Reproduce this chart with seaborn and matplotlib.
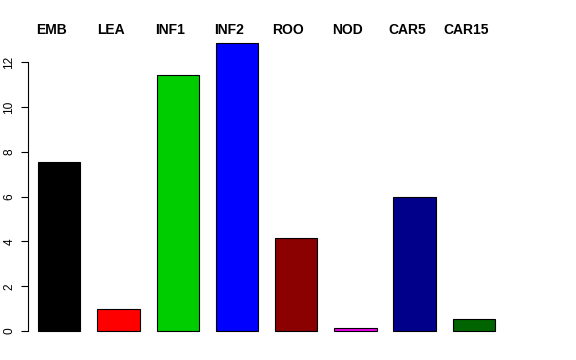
import matplotlib
matplotlib.use("Agg")
import matplotlib.pyplot as plt
import seaborn as sns
import pandas as pd

categories = ["EMB", "LEA", "INF1", "INF2", "ROO", "NOD", "CAR5", "CAR15"]
values = [7.53, 0.97, 11.43, 12.88, 4.14, 0.12, 6.0, 0.52]
colors = ["#000000", "#FF0000", "#00CD00", "#0000FF", "#8B0000", "#EE00EE", "#00008B", "#006400"]
yticks = [0, 2, 4, 6, 8, 10, 12]

sns.set_style("white")
plt.rcParams["font.family"] = ["Liberation Sans", "DejaVu Sans"]
plt.rcParams["text.color"] = "black"
plt.rcParams["ytick.color"] = "black"
plt.rcParams["ytick.labelcolor"] = "black"

df = pd.DataFrame({"cat": categories, "val": values})

fig = plt.figure(figsize=(5.76, 3.6), dpi=100)
xmin, xmax = -0.527, 8.5
ymin, ymax = -0.5, 13.5
pxu = 59.23
pyu = 22.39
left = 28 / 576
width = (xmax - xmin) * pxu / 576
bottom = (29 - 0.5 * pyu) / 360
height = (ymax - ymin) * pyu / 360
ax = fig.add_axes([left, bottom, width, height])

sns.barplot(data=df, x="cat", y="val", hue="cat", palette=colors,
            width=0.714, edgecolor="black", linewidth=0.8, legend=False,
            saturation=1, ax=ax)

ax.set_xlim(xmin, xmax)
ax.set_ylim(ymin, ymax)
for s in ["top", "right", "bottom"]:
    ax.spines[s].set_visible(False)
ax.spines["left"].set_bounds(0, 12)
ax.spines["left"].set_linewidth(0.8)
ax.spines["left"].set_color("black")
ax.set_xticks([])
ax.set_yticks(yticks)
ax.set_yticklabels([str(t) for t in yticks], rotation=90, va="center", fontsize=8.6, color="black")
ax.tick_params(axis="y", direction="out", length=5, width=0.8, pad=4, left=True, colors="black")
ax.set_xlabel("")
ax.set_ylabel("")

for i, c in enumerate(categories):
    ax.text(i - 0.13, 13.26, c, ha="center", va="baseline", fontsize=10,
            fontweight="bold", color="black", clip_on=False)

fig.savefig("out.png", dpi=100)
